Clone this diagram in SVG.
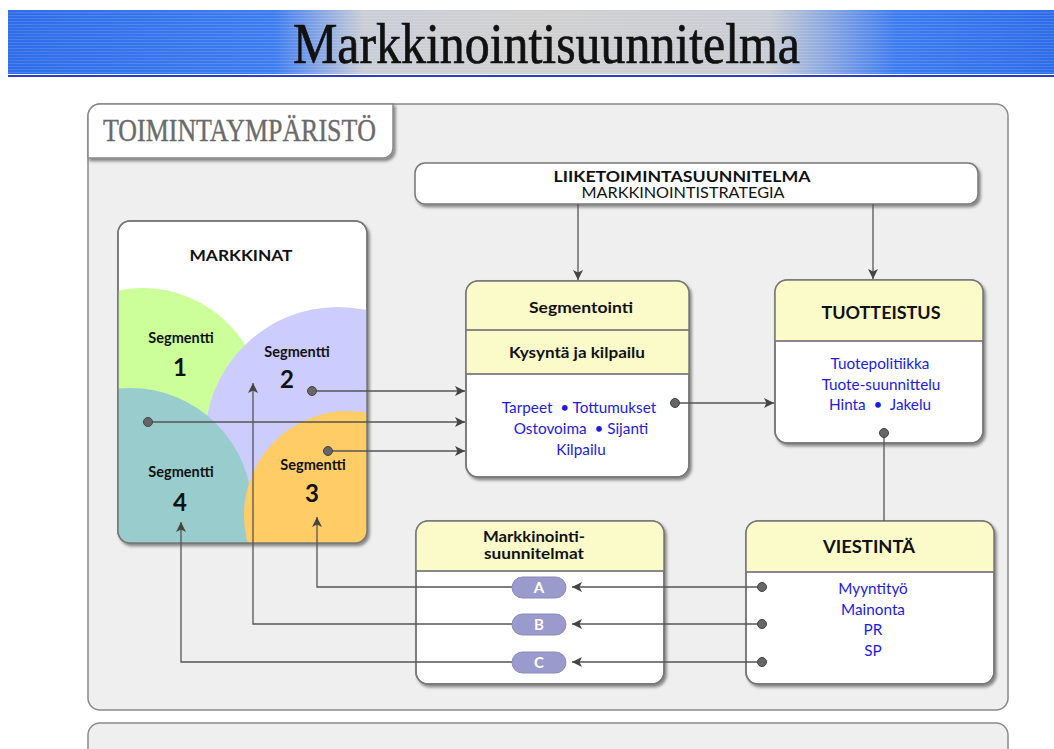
<svg xmlns="http://www.w3.org/2000/svg" width="1054" height="749" viewBox="0 0 1054 749">
<defs>
  <linearGradient id="band" x1="0" y1="0" x2="1054" y2="0" gradientUnits="userSpaceOnUse">
    <stop offset="0" stop-color="#2f6ce8"/>
    <stop offset="0.26" stop-color="#3f7cf0"/>
    <stop offset="0.345" stop-color="#c9cdd6"/>
    <stop offset="0.5" stop-color="#d0d0d0"/>
    <stop offset="0.73" stop-color="#c9ccd4"/>
    <stop offset="0.85" stop-color="#3f7cf0"/>
    <stop offset="1" stop-color="#2f6ce8"/>
  </linearGradient>
  <pattern id="stripes" width="4" height="3" patternUnits="userSpaceOnUse">
    <rect width="4" height="1" fill="#ffffff" fill-opacity="0.13"/>
  </pattern>
  <filter id="sh" x="-10%" y="-10%" width="125%" height="125%">
    <feDropShadow dx="2" dy="2.5" stdDeviation="1.5" flood-color="#000" flood-opacity="0.45"/>
  </filter>
  <clipPath id="mkclip"><rect x="118" y="221" width="249" height="322" rx="12"/></clipPath>
  <marker id="arr" viewBox="0 0 10 10" refX="10" refY="5" markerWidth="10" markerHeight="10" markerUnits="userSpaceOnUse" orient="auto">
    <path d="M0,0 L10,5 L0,10 L2.5,5 Z" fill="#444"/>
  </marker>
  <style>
    .panel{fill:#efefef;stroke:#8a8a8a;stroke-width:1.5}
    .box{fill:#fff;stroke:#777;stroke-width:1.5}
    .hdr{fill:#fbfbc9}
    .div{stroke:#888;stroke-width:2}
    .outline{fill:none;stroke:#777;stroke-width:1.5}
    .b{font-family:Lato,"Open Sans","DejaVu Sans",sans-serif;font-weight:bold;fill:#111;text-anchor:middle}
    .t{font-family:Lato,"Open Sans","DejaVu Sans",sans-serif;font-size:15.3px;fill:#1c1ce0;text-anchor:middle}
    .seg{font-size:14.5px}
    .num{font-size:24px}
    .ln{fill:none;stroke:#555;stroke-width:1.3}
    .dot{fill:#666;stroke:#444;stroke-width:1}
    .pill{fill:#9a9acc;stroke:#8a8abd;stroke-width:1}
    .pt{font-family:Lato,"Open Sans",sans-serif;font-weight:bold;font-size:15px;fill:#fff;text-anchor:middle}
  </style>
</defs>

<rect width="1054" height="749" fill="#fff"/>

<g id="header">
  <rect x="8" y="10" width="1046" height="64" fill="url(#band)"/>
  <rect x="8" y="10" width="1046" height="64" fill="url(#stripes)"/>
  <rect x="8" y="75" width="1046" height="2" fill="#2a3ec0"/>
  <text x="293" y="63" font-family="Liberation Serif,serif" font-size="58" fill="#111" stroke="#111" stroke-width="0.7" textLength="507" lengthAdjust="spacingAndGlyphs">Markkinointisuunnitelma</text>
</g>

<g id="toimintaymparisto">
  <rect class="panel" x="88" y="104" width="920" height="606" rx="12"/>
  <path d="M88,158 V116 a12,12 0 0 1 12,-12 H393 V148 a10,10 0 0 1 -10,10 Z" fill="#fff" stroke="#888" stroke-width="1.5" filter="url(#sh)"/>
  <text x="103" y="141" font-family="Liberation Serif,serif" font-size="31" fill="#6a6a6a" stroke="#6a6a6a" stroke-width="0.4" textLength="273" lengthAdjust="spacingAndGlyphs">TOIMINTAYMPÄRISTÖ</text>
</g>

<g id="bottom-panel">
  <rect class="panel" x="88" y="723" width="920" height="60" rx="12"/>
</g>

<g id="liiketoimintasuunnitelma">
  <rect class="box" x="415" y="163" width="563" height="41" rx="10" filter="url(#sh)"/>
  <text class="b" x="682" y="182" font-size="15" textLength="257" lengthAdjust="spacingAndGlyphs">LIIKETOIMINTASUUNNITELMA</text>
  <text x="683" y="198" font-family="Lato,'Open Sans',sans-serif" font-size="15" fill="#111" text-anchor="middle" textLength="203" lengthAdjust="spacingAndGlyphs">MARKKINOINTISTRATEGIA</text>
</g>

<g id="markkinat">
  <rect class="box" x="118" y="221" width="249" height="322" rx="12" filter="url(#sh)"/>
  <g clip-path="url(#mkclip)">
    <circle cx="143" cy="408" r="120" fill="#ccff99"/>
    <circle cx="338" cy="440" r="133" fill="#ccccff"/>
    <circle cx="130" cy="510" r="122" fill="#99cccc"/>
    <circle cx="348" cy="515" r="104" fill="#ffcc66"/>
  </g>
  <rect class="outline" x="118" y="221" width="249" height="322" rx="12"/>
  <text class="b" x="241" y="261" font-size="14.5" textLength="103" lengthAdjust="spacingAndGlyphs">MARKKINAT</text>
  <text class="b seg" x="181" y="343">Segmentti</text>
  <text class="b num" x="180" y="376">1</text>
  <text class="b seg" x="297" y="357">Segmentti</text>
  <text class="b num" x="287" y="388">2</text>
  <text class="b seg" x="313" y="470">Segmentti</text>
  <text class="b num" x="312" y="502">3</text>
  <text class="b seg" x="181" y="477">Segmentti</text>
  <text class="b num" x="180" y="511">4</text>
</g>

<g id="segmentointi">
  <rect class="box" x="466" y="281" width="223" height="196" rx="12" filter="url(#sh)"/>
  <path class="hdr" d="M466,330 V293 a12,12 0 0 1 12,-12 H677 a12,12 0 0 1 12,12 V330 Z"/>
  <rect class="hdr" x="466" y="330" width="223" height="44"/>
  <line class="div" x1="466" y1="330" x2="689" y2="330"/>
  <line class="div" x1="466" y1="374" x2="689" y2="374"/>
  <rect class="outline" x="466" y="281" width="223" height="196" rx="12"/>
  <text class="b" x="581" y="313" font-size="16" textLength="104" lengthAdjust="spacingAndGlyphs">Segmentointi</text>
  <text class="b" x="577" y="358" font-size="16" textLength="136" lengthAdjust="spacingAndGlyphs">Kysyntä ja kilpailu</text>
  <text class="t" x="579" y="413" xml:space="preserve">Tarpeet  • Tottumukset</text>
  <text class="t" x="581" y="434" xml:space="preserve">Ostovoima  • Sijanti</text>
  <text class="t" x="581" y="455">Kilpailu</text>
</g>

<g id="tuotteistus">
  <rect class="box" x="775" y="280" width="208" height="163" rx="12" filter="url(#sh)"/>
  <path class="hdr" d="M775,341 V292 a12,12 0 0 1 12,-12 H971 a12,12 0 0 1 12,12 V341 Z"/>
  <line class="div" x1="775" y1="341" x2="983" y2="341"/>
  <rect class="outline" x="775" y="280" width="208" height="163" rx="12"/>
  <text class="b" x="881" y="319" font-size="16.5" textLength="119" lengthAdjust="spacingAndGlyphs">TUOTTEISTUS</text>
  <text class="t" x="880" y="369">Tuotepolitiikka</text>
  <text class="t" x="881" y="390">Tuote-suunnittelu</text>
  <text class="t" x="880" y="410" xml:space="preserve">Hinta  •  Jakelu</text>
</g>

<g id="markkinointisuunnitelmat">
  <rect class="box" x="416" y="521" width="248" height="163" rx="12" filter="url(#sh)"/>
  <path class="hdr" d="M416,571 V533 a12,12 0 0 1 12,-12 H652 a12,12 0 0 1 12,12 V571 Z"/>
  <line class="div" x1="416" y1="571" x2="664" y2="571"/>
  <rect class="outline" x="416" y="521" width="248" height="163" rx="12"/>
  <text class="b" x="534" y="542" font-size="15" textLength="102" lengthAdjust="spacingAndGlyphs">Markkinointi-</text>
  <text class="b" x="534" y="559" font-size="15" textLength="100" lengthAdjust="spacingAndGlyphs">suunnitelmat</text>
</g>

<g id="viestinta">
  <rect class="box" x="746" y="521" width="248" height="163" rx="12" filter="url(#sh)"/>
  <path class="hdr" d="M746,572 V533 a12,12 0 0 1 12,-12 H982 a12,12 0 0 1 12,12 V572 Z"/>
  <line class="div" x1="746" y1="572" x2="994" y2="572"/>
  <rect class="outline" x="746" y="521" width="248" height="163" rx="12"/>
  <text class="b" x="869" y="553" font-size="16.5" textLength="92" lengthAdjust="spacingAndGlyphs">VIESTINTÄ</text>
  <text class="t" x="873" y="594">Myyntityö</text>
  <text class="t" x="873" y="615">Mainonta</text>
  <text class="t" x="873" y="635">PR</text>
  <text class="t" x="873" y="656">SP</text>
</g>

<g id="connectors">
  <line class="ln" x1="578" y1="204" x2="578" y2="280" marker-end="url(#arr)"/>
  <line class="ln" x1="873" y1="204" x2="873" y2="279" marker-end="url(#arr)"/>
  <line class="ln" x1="312" y1="391" x2="465" y2="391" marker-end="url(#arr)"/>
  <line class="ln" x1="148" y1="422" x2="465" y2="422" marker-end="url(#arr)"/>
  <line class="ln" x1="328" y1="451" x2="465" y2="451" marker-end="url(#arr)"/>
  <line class="ln" x1="675" y1="403" x2="774" y2="403" marker-end="url(#arr)"/>
  <line class="ln" x1="884" y1="433" x2="884" y2="521"/>
  <line class="ln" x1="762" y1="587" x2="572" y2="587" marker-end="url(#arr)"/>
  <line class="ln" x1="762" y1="624" x2="572" y2="624" marker-end="url(#arr)"/>
  <line class="ln" x1="762" y1="662" x2="572" y2="662" marker-end="url(#arr)"/>
  <polyline class="ln" points="512,587 317,587 317,517" marker-end="url(#arr)"/>
  <polyline class="ln" points="512,624 253,624 253,383" marker-end="url(#arr)"/>
  <polyline class="ln" points="512,662 181,662 181,522" marker-end="url(#arr)"/>
  <circle class="dot" cx="312" cy="391" r="4.5"/>
  <circle class="dot" cx="148" cy="422" r="4.5"/>
  <circle class="dot" cx="328" cy="451" r="4.5"/>
  <circle class="dot" cx="675" cy="403" r="4.5"/>
  <circle class="dot" cx="884" cy="433" r="4.5"/>
  <circle class="dot" cx="762" cy="587" r="4.5"/>
  <circle class="dot" cx="762" cy="624" r="4.5"/>
  <circle class="dot" cx="762" cy="662" r="4.5"/>
</g>

<g id="plan-a">
  <rect class="pill" x="512" y="577" width="54" height="21" rx="10.5"/>
  <text class="pt" x="539" y="592.5">A</text>
</g>
<g id="plan-b">
  <rect class="pill" x="512" y="614" width="54" height="21" rx="10.5"/>
  <text class="pt" x="539" y="629.5">B</text>
</g>
<g id="plan-c">
  <rect class="pill" x="512" y="652" width="54" height="21" rx="10.5"/>
  <text class="pt" x="539" y="667.5">C</text>
</g>
</svg>
